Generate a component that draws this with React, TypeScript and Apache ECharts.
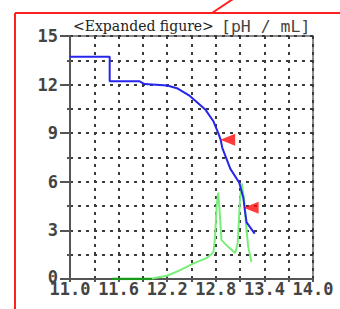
import React, { useEffect, useRef } from "react";
import * as echarts from "echarts";

// Titration curve (pH vs mL)
const blueX = [11.0, 11.49, 11.49, 11.86, 11.92, 12.2, 12.32, 12.48, 12.67, 12.77, 12.83, 12.86, 12.88, 12.98, 13.09, 13.14, 13.16, 13.18, 13.28];
const blueY = [13.72, 13.72, 12.2, 12.2, 12.03, 11.94, 11.78, 11.3, 10.47, 9.74, 9.0, 8.6, 8.1, 6.8, 5.94, 5.0, 4.2, 3.5, 2.8];

// Derivative curve (dpH/dmL)
const darkGreenX = [11.52, 12.01];
const darkGreenY = [0, 0];
const greenX = [12.01, 12.2, 12.36, 12.52, 12.69, 12.77, 12.79, 12.81, 12.83, 12.85, 12.87, 12.95, 13.04, 13.07, 13.1, 13.12, 13.15, 13.18, 13.2, 13.24];
const greenY = [0.03, 0.2, 0.55, 0.95, 1.3, 1.65, 2.5, 4.5, 5.33, 4.0, 2.4, 2.0, 1.6, 2.2, 5.0, 5.9, 4.9, 3.0, 2.0, 1.04];

// Equivalence point markers
const markerX = [12.86, 13.15];
const markerY = [8.6, 4.4];

const xTicks = { min: 11.0, max: 14.0, interval: 0.6 };
const yTicks = { min: 0, max: 15, interval: 3 };

const pairs = (xs: number[], ys: number[]) => xs.map((x, i) => [x, ys[i]]);

export default function App() {
  const ref = useRef<HTMLDivElement>(null);
  useEffect(() => {
    if (!ref.current) return;
    const chart = echarts.init(ref.current, null, { renderer: "svg" });
    const gridLine = { show: true, lineStyle: { color: "#3a3a3a", width: 2, type: [3, 5] as any } };
    const labelStyle = {
      fontFamily: "DejaVu Sans Mono",
      fontWeight: "bold" as const,
      fontSize: 17,
      color: "#444",
    };
    chart.setOption({
      animation: false,
      backgroundColor: "#fff",
      grid: {
        left: 70,
        top: 36,
        right: 27,
        bottom: 30,
        show: true,
        borderColor: "#666",
        borderWidth: 1.5,
        containLabel: false,
      },
      xAxis: {
        type: "value",
        min: xTicks.min,
        max: xTicks.max,
        interval: xTicks.interval,
        axisLine: { show: true, onZero: false, lineStyle: { color: "#555", width: 2 } },
        axisTick: { show: true, length: 3, lineStyle: { color: "#555", width: 2 } },
        minorTick: { show: true, splitNumber: 2, length: 3, lineStyle: { color: "#555", width: 2 } },
        splitLine: gridLine,
        minorSplitLine: gridLine,
        axisLabel: {
          ...labelStyle,
          margin: 1,
          formatter: (v: number) => v.toFixed(1),
        },
      },
      yAxis: {
        type: "value",
        min: yTicks.min,
        max: yTicks.max,
        interval: yTicks.interval,
        axisLine: { show: true, onZero: false, lineStyle: { color: "#555", width: 2 } },
        axisTick: { show: true, length: 10, lineStyle: { color: "#555", width: 2 } },
        minorTick: { show: true, splitNumber: 2, length: 3, lineStyle: { color: "#555", width: 2 } },
        splitLine: gridLine,
        minorSplitLine: gridLine,
        axisLabel: {
          ...labelStyle,
          margin: 12,
          formatter: (v: number) => (v === 0 ? "{z|0}" : String(v)),
          rich: { z: { ...labelStyle, padding: [0, 0, 4, 0] } },
        },
      },
      series: [
        {
          type: "line",
          data: pairs(darkGreenX, darkGreenY),
          showSymbol: false,
          lineStyle: { color: "#1a9a1a", width: 2.5 },
          z: 3,
        },
        {
          type: "line",
          data: pairs(greenX, greenY),
          showSymbol: false,
          lineStyle: { color: "#77ee77", width: 2 },
          z: 3,
        },
        {
          type: "line",
          data: pairs(blueX, blueY),
          showSymbol: false,
          lineStyle: { color: "#2525ee", width: 2 },
          z: 4,
        },
        {
          type: "scatter",
          data: pairs(markerX, markerY),
          symbol: "path://M0,6L16,0L16,12Z",
          symbolSize: [15, 12],
          symbolOffset: [7, 0],
          itemStyle: { color: "#ff0a0a" },
          z: 5,
        },
      ],
      graphic: [
        { type: "line", shape: { x1: 15, y1: 13, x2: 340, y2: 13 }, style: { stroke: "#ff2020", lineWidth: 2 }, z: 10 },
        { type: "line", shape: { x1: 15, y1: 13, x2: 15, y2: 309 }, style: { stroke: "#ff2020", lineWidth: 2 }, z: 10 },
        { type: "line", shape: { x1: 212, y1: 13, x2: 233, y2: -1 }, style: { stroke: "#ff2020", lineWidth: 2 }, z: 10 },
        {
          type: "text",
          x: 73,
          y: 26,
          style: {
            text: "<Expanded figure>",
            fontFamily: "DejaVu Serif",
            fontSize: 14,
            fill: "#222",
            verticalAlign: "middle",
          },
          z: 10,
        },
        {
          type: "text",
          x: 221,
          y: 26,
          style: {
            text: "[pH / mL]",
            fontFamily: "DejaVu Sans Mono",
            fontSize: 16.5,
            fill: "#4a4440",
            verticalAlign: "middle",
          },
          z: 10,
        },
      ],
    });
    return () => chart.dispose();
  }, []);
  return (
    <div
      ref={ref}
      style={{ position: "absolute", left: 0, top: 0, width: 340, height: 309, background: "#fff" }}
    />
  );
}
